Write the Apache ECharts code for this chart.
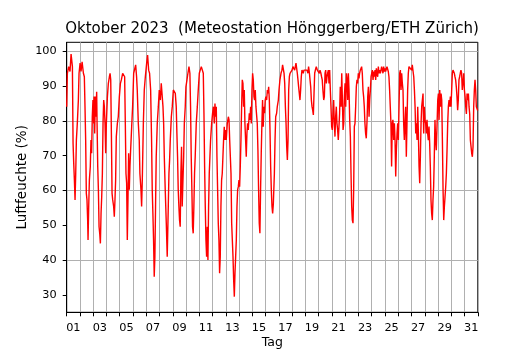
<!DOCTYPE html>
<html>
<head>
<meta charset="utf-8">
<script src="https://cdn.jsdelivr.net/npm/echarts@6/dist/echarts.min.js"></script>
<style>
  html, body { margin: 0; padding: 0; background: #fff; }
  #chart { width: 530px; height: 350px; }
</style>
</head>
<body>
<div id="chart"></div>
<script>
// Zeit in Tagen ab 1. Oktober 00:00, Werte in % rel. Feuchte
const days = [
  0.00, 0.05, 0.15, 0.25, 0.33, 0.43, 0.48, 0.53, 0.58, 0.63, 0.68, 0.73, 0.80, 0.88, 0.93,
  1.01, 1.08, 1.16, 1.26, 1.33, 1.38, 1.43, 1.48, 1.53, 1.58, 1.61, 1.66, 1.71, 1.78, 1.83, 1.88, 1.93, 1.98,
  2.04, 2.06, 2.11, 2.16, 2.21, 2.26, 2.29, 2.34, 2.39, 2.44, 2.49, 2.54, 2.59, 2.64, 2.69, 2.74, 2.79, 2.84, 2.89, 2.94, 2.99,
  3.07, 3.14, 3.22, 3.27, 3.32, 3.37, 3.42, 3.47, 3.54, 3.59, 3.64, 3.69, 3.74, 3.82, 3.89, 3.97,
  4.05, 4.12, 4.22, 4.30, 4.37, 4.42, 4.47, 4.52, 4.57, 4.62, 4.67, 4.72, 4.77, 4.82, 4.90, 4.97,
  5.05, 5.20, 5.27, 5.32, 5.40, 5.47, 5.52, 5.60, 5.65, 5.70, 5.78, 5.85, 5.93,
  6.03, 6.10, 6.18, 6.25, 6.33, 6.40, 6.45, 6.50, 6.55, 6.60, 6.65, 6.70, 6.75, 6.83, 6.91, 6.98,
  7.06, 7.13, 7.21, 7.26, 7.31, 7.36, 7.43, 7.51, 7.58, 7.66, 7.71, 7.76, 7.81, 7.89, 7.96,
  8.04, 8.11, 8.19, 8.26, 8.31, 8.36, 8.41, 8.46, 8.51, 8.56, 8.61, 8.66, 8.71, 8.76, 8.82, 8.87, 8.94, 8.99,
  9.07, 9.14, 9.22, 9.29, 9.34, 9.39, 9.44, 9.49, 9.54, 9.59, 9.64, 9.69, 9.77, 9.85, 9.92,
  10.00, 10.07, 10.15, 10.23, 10.30, 10.35, 10.40, 10.45, 10.50, 10.55, 10.60, 10.65, 10.70, 10.75, 10.80, 10.85, 10.93,
  11.00, 11.06, 11.13, 11.18, 11.23, 11.28, 11.33, 11.38, 11.43, 11.48, 11.53, 11.58, 11.63, 11.68, 11.73, 11.78, 11.83, 11.88, 11.93, 11.98,
  12.03, 12.11, 12.19, 12.24, 12.29, 12.34, 12.39, 12.44, 12.49, 12.54, 12.59, 12.64, 12.69, 12.74, 12.79, 12.84, 12.89, 12.94, 12.99,
  13.04, 13.09, 13.14, 13.19, 13.24, 13.29, 13.34, 13.39, 13.44, 13.49, 13.54, 13.59, 13.64, 13.69, 13.77, 13.82, 13.87, 13.92, 13.97,
  14.02, 14.07, 14.12, 14.17, 14.22, 14.27, 14.32, 14.37, 14.42, 14.47, 14.52, 14.57, 14.62, 14.67, 14.72, 14.77, 14.82, 14.87, 14.92, 14.97,
  15.02, 15.08, 15.13, 15.18, 15.23, 15.28, 15.33, 15.38, 15.43, 15.48, 15.53, 15.58, 15.66, 15.71, 15.76, 15.83, 15.88, 15.96,
  16.01, 16.08, 16.16, 16.23, 16.28, 16.33, 16.39, 16.44, 16.49, 16.54, 16.59, 16.64, 16.69, 16.74, 16.79, 16.84, 16.91, 16.99,
  17.06, 17.14, 17.19, 17.24, 17.29, 17.34, 17.39, 17.44, 17.49, 17.54, 17.59, 17.64, 17.69, 17.74, 17.79, 17.84, 17.89, 17.97,
  18.04, 18.12, 18.19, 18.24, 18.29, 18.34, 18.40, 18.45, 18.50, 18.55, 18.60, 18.65, 18.70, 18.75, 18.82, 18.90, 18.97,
  19.05, 19.10, 19.17, 19.22, 19.27, 19.32, 19.38, 19.43, 19.48, 19.53, 19.58, 19.63, 19.68, 19.73, 19.78, 19.83, 19.88, 19.93, 19.98,
  20.03, 20.08, 20.13, 20.18, 20.23, 20.28, 20.33, 20.38, 20.43, 20.48, 20.53, 20.58, 20.63, 20.69, 20.74, 20.79, 20.84, 20.89, 20.94, 20.99,
  21.04, 21.09, 21.14, 21.19, 21.24, 21.29, 21.34, 21.39, 21.44, 21.49, 21.54, 21.59, 21.64, 21.69, 21.74, 21.79, 21.84, 21.89, 21.94, 21.99,
  22.04, 22.09, 22.14, 22.19, 22.24, 22.29, 22.34, 22.39, 22.44, 22.49, 22.54, 22.59, 22.65, 22.70, 22.75, 22.80, 22.85, 22.90, 22.95,
  23.00, 23.05, 23.10, 23.15, 23.20, 23.25, 23.30, 23.35, 23.40, 23.45, 23.50, 23.55, 23.60, 23.65, 23.70, 23.75, 23.80, 23.85, 23.90, 23.95,
  24.00, 24.05, 24.10, 24.15, 24.20, 24.25, 24.30, 24.35, 24.40, 24.45, 24.50, 24.55, 24.60, 24.66, 24.71, 24.76, 24.81, 24.86, 24.91, 24.96,
  25.01, 25.06, 25.11, 25.16, 25.21, 25.26, 25.31, 25.36, 25.41, 25.46, 25.51, 25.56, 25.61, 25.66, 25.71, 25.76, 25.81, 25.86, 25.91, 25.96,
  26.01, 26.06, 26.12, 26.17, 26.22, 26.27, 26.32, 26.37, 26.42, 26.47, 26.52, 26.57, 26.62, 26.67, 26.72, 26.77, 26.82, 26.87, 26.92, 26.97,
  27.02, 27.07, 27.12, 27.17, 27.22, 27.27, 27.32, 27.37, 27.42, 27.47, 27.52, 27.57, 27.62, 27.67, 27.72, 27.77, 27.82, 27.87, 27.93, 27.98,
  28.03, 28.08, 28.13, 28.18, 28.23, 28.28, 28.33, 28.38, 28.43, 28.48, 28.53, 28.58, 28.63, 28.68, 28.73, 28.78, 28.83, 28.88, 28.93, 28.98,
  29.03, 29.08, 29.13, 29.18, 29.23, 29.28, 29.33, 29.38, 29.43, 29.48, 29.53, 29.58, 29.63, 29.68, 29.73, 29.78, 29.83, 29.88, 29.94, 29.99,
  30.04, 30.09, 30.14, 30.19, 30.24, 30.29, 30.34, 30.39, 30.44, 30.49, 30.54, 30.59, 30.64, 30.69, 30.74, 30.79, 30.84, 30.89, 30.94, 30.99
];
const humidity = [
  84.1, 93.7, 95.6, 94.2, 99.2, 95.6, 73.6, 67.8, 63.0, 57.3, 64.9, 74.5, 79.3, 86.0, 93.7,
  96.6, 94.2, 97.0, 93.7, 92.7, 84.1, 74.5, 59.2, 57.3, 51.5, 45.8, 55.4, 63.0, 66.9, 74.5, 70.7, 81.2, 86.0,
  79.3, 87.0, 76.4, 87.0, 81.2, 88.4, 79.3, 66.9, 60.2, 49.6, 47.7, 44.8, 53.4, 58.2, 64.9, 79.3, 86.0, 84.1, 79.3, 70.7, 79.3,
  87.0, 90.8, 92.7, 93.7, 91.8, 76.4, 59.2, 57.3, 55.4, 52.5, 57.3, 63.0, 75.5, 79.3, 81.2, 87.0,
  90.8, 91.8, 93.7, 94.2, 92.7, 79.3, 64.9, 62.1, 45.8, 57.3, 70.7, 60.2, 66.9, 71.6, 78.3, 84.1,
  93.7, 96.1, 92.7, 88.9, 79.3, 74.5, 64.9, 60.2, 55.4, 63.0, 79.3, 88.9, 92.7,
  96.6, 98.9, 94.6, 93.7, 88.9, 74.5, 60.2, 53.4, 45.8, 35.2, 41.0, 55.4, 69.7, 79.3, 84.1, 88.9,
  86.0, 90.8, 90.8, 84.1, 79.3, 69.7, 60.2, 50.6, 41.0, 55.4, 64.9, 68.8, 74.5, 81.2, 84.1,
  88.9, 89.4, 87.9, 84.1, 76.4, 69.7, 60.2, 55.4, 51.5, 49.6, 64.9, 72.6, 55.4, 62.1, 69.7, 79.3, 84.1, 89.8,
  91.8, 93.7, 95.6, 93.7, 84.1, 69.7, 60.2, 49.6, 47.7, 55.4, 64.9, 69.7, 79.3, 84.1, 88.9,
  93.7, 94.6, 95.6, 95.6, 93.7, 82.2, 66.9, 55.4, 45.8, 41.0, 49.6, 40.0, 55.4, 64.9, 69.7, 74.5, 79.3,
  82.2, 84.1, 79.3, 85.0, 81.2, 84.1, 69.7, 60.2, 50.6, 45.8, 36.2, 41.0, 55.4, 63.0, 64.9, 69.7, 74.5, 78.3, 74.5, 77.4,
  74.5, 79.3, 81.2, 80.3, 74.5, 69.7, 64.9, 50.6, 45.8, 41.0, 34.3, 29.5, 36.2, 41.0, 45.8, 55.4, 60.2, 61.1, 63.0,
  61.1, 66.9, 74.5, 84.1, 91.8, 90.8, 84.1, 88.9, 79.3, 74.5, 69.7, 76.4, 79.3, 77.4, 82.2, 80.3, 84.1, 79.3, 88.9,
  93.7, 91.8, 87.0, 86.0, 88.9, 84.1, 84.1, 79.3, 71.6, 60.2, 50.6, 47.7, 60.2, 70.7, 79.3, 86.0, 78.3, 84.1, 82.2, 86.0,
  87.0, 86.0, 88.9, 87.9, 89.8, 86.0, 77.4, 66.9, 60.2, 55.4, 53.4, 56.0, 64.9, 74.5, 81.2, 82.2, 84.1, 86.0,
  88.9, 91.8, 93.7, 94.6, 96.1, 96.6, 93.7, 90.8, 84.1, 79.3, 72.6, 68.8, 74.5, 88.9, 92.7, 93.7, 94.2, 94.6,
  95.6, 96.1, 94.6, 95.1, 96.6, 95.1, 93.7, 91.8, 89.8, 87.9, 86.0, 88.9, 92.7, 94.6, 94.2, 93.7, 94.6, 94.2,
  95.1, 94.6, 93.7, 95.6, 94.2, 93.7, 89.8, 86.0, 84.1, 83.1, 81.7, 87.9, 93.7, 94.6, 95.6, 94.6, 95.1,
  93.7, 94.6, 93.7, 92.7, 91.8, 88.9, 86.0, 87.0, 93.7, 94.6, 90.8, 92.7, 93.7, 94.6, 90.8, 94.6, 88.9, 84.1, 78.4,
  77.4, 82.2, 86.0, 79.3, 75.5, 81.2, 84.1, 79.3, 77.4, 74.5, 78.3, 82.2, 89.8, 84.1, 93.7, 86.0, 77.4, 79.3, 87.0, 90.8,
  84.1, 93.7, 91.8, 86.0, 93.7, 88.9, 80.3, 75.5, 64.9, 55.4, 51.5, 50.6, 60.2, 78.4, 79.3, 84.1, 89.8, 91.8, 90.8, 93.7,
  92.2, 93.7, 94.6, 95.1, 95.6, 93.7, 88.9, 87.0, 84.1, 79.3, 76.4, 75.0, 80.3, 87.0, 89.8, 81.2, 86.0, 88.9, 92.7,
  93.7, 94.6, 91.8, 94.2, 92.7, 94.6, 91.8, 95.1, 93.7, 92.7, 95.6, 93.7, 94.6, 93.7, 94.6, 95.6, 94.6, 93.7, 95.6, 94.2,
  95.1, 94.2, 94.6, 95.6, 95.6, 94.2, 92.7, 88.9, 84.1, 79.3, 66.9, 79.3, 80.3, 74.5, 79.3, 74.5, 64.0, 71.6, 76.4, 79.3,
  74.5, 84.1, 93.7, 94.6, 88.9, 93.7, 90.8, 88.9, 79.3, 74.5, 79.3, 84.1, 69.7, 79.3, 88.9, 93.7, 95.6, 96.1, 95.6, 95.1,
  94.6, 96.1, 94.2, 92.7, 88.9, 84.1, 76.4, 79.3, 74.5, 84.1, 76.4, 66.9, 62.1, 69.7, 79.3, 84.1, 86.0, 87.9, 76.4, 84.1,
  80.3, 79.3, 76.4, 80.3, 76.4, 74.5, 78.4, 73.6, 66.9, 57.3, 53.4, 51.5, 57.3, 61.1, 69.7, 80.3, 74.5, 71.6, 79.3, 86.0,
  87.9, 80.3, 88.9, 84.1, 87.9, 86.0, 74.5, 60.2, 51.5, 55.4, 58.2, 61.1, 64.9, 71.6, 79.3, 84.1, 86.0, 84.1, 87.0, 84.1,
  88.9, 93.7, 94.6, 95.1, 93.7, 92.7, 91.8, 89.8, 87.0, 83.1, 86.0, 91.8, 92.7, 93.7, 94.6, 93.7, 88.9, 90.8, 93.7, 88.9,
  87.0, 84.1, 82.0, 87.9, 86.0, 87.9, 84.1, 82.0, 74.5, 72.6, 70.7, 69.7, 72.6, 84.1, 88.9, 91.8, 88.9, 84.1, 84.1, 83.0
];
const yTicks = [30, 40, 50, 60, 70, 80, 90, 100];
const titleText = 'Oktober 2023  (Meteostation Hönggerberg/ETH Zürich)';

const font = 'DejaVu Sans';
const dayWidth = (530 - 66.7 - 52.2) / 31;

let chart = echarts.init(document.getElementById('chart'), null, { renderer: 'canvas' });

let option = {
    animation: false,
    backgroundColor: '#fff',
    title: {
        text: titleText,
        left: 272,
        top: 22,
        padding: 0,
        textAlign: 'center',
        textStyle: { fontFamily: font, fontSize: 15, fontWeight: 'normal', color: '#000' }
    },
    grid: {
        left: 66.7, right: 52.2, top: 42.3, bottom: 37.7,
        outerBoundsMode: 'none',
        show: true, borderColor: '#000', borderWidth: 1, backgroundColor: 'transparent'
    },
    xAxis: {
        type: 'value',
        min: 0, max: 31, interval: 1,
        name: 'Tag',
        nameLocation: 'middle',
        nameGap: 24,
        nameMoveOverlap: false,
        nameTextStyle: { fontFamily: font, fontSize: 12.5, color: '#000', verticalAlign: 'top' },
        axisLine: { show: true, lineStyle: { color: '#000', width: 1 } },
        axisTick: { show: true, length: 4, lineStyle: { color: '#000', width: 1 } },
        splitLine: { show: true, lineStyle: { color: '#b0b0b0', width: 1 } },
        axisLabel: {
            fontFamily: font, fontSize: 11.3, color: '#000', margin: 10,
            padding: [0, 0, 0, dayWidth],
            formatter: (v) => (v % 2 === 0 && v < 31) ? String(v + 1).padStart(2, '0') : ''
        }
    },
    yAxis: {
        type: 'value',
        min: 25, max: 102.6, interval: 5,
        name: 'Luftfeuchte (%)',
        nameLocation: 'middle',
        nameGap: 37,
        nameMoveOverlap: false,
        nameTextStyle: { fontFamily: font, fontSize: 13.5, color: '#000' },
        axisLine: { show: true, lineStyle: { color: '#000', width: 1 } },
        axisTick: { show: true, length: 4, customValues: yTicks, lineStyle: { color: '#000', width: 1 } },
        splitLine: { show: true, lineStyle: { color: ['transparent', '#b0b0b0'], width: 1 } },
        axisLabel: {
            fontFamily: font, fontSize: 11.3, color: '#000', margin: 10,
            formatter: (v) => yTicks.includes(v) ? String(v) : ''
        }
    },
    series: [
        {
            type: 'line',
            data: days.map((d, i) => [d, humidity[i]]),
            showSymbol: false,
            symbol: 'none',
            lineStyle: { color: '#ff0000', width: 1.4 },
            itemStyle: { color: '#ff0000' }
        }
    ]
};

chart.setOption(option);
</script>
</body>
</html>
